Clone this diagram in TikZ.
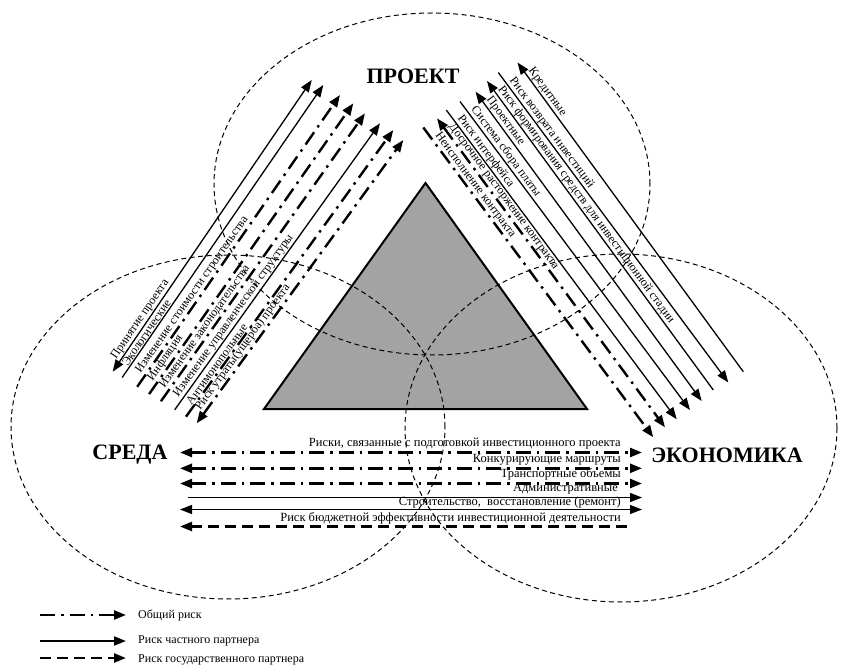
\documentclass[tikz,border=0pt]{standalone}
\usepackage{fontspec}
\setmainfont{Liberation Serif}
\usetikzlibrary{arrows.meta}
\definecolor{trigray}{RGB}{163,163,163}
\tikzset{
  zone/.style={line width=1pt, dash pattern=on 5pt off 3.5pt},
  genrisk/.style={line width=2.4pt, dash pattern=on 15pt off 6pt on 2.5pt off 6pt},
  privrisk/.style={line width=1.3pt},
  pubrisk/.style={line width=2.4pt, dash pattern=on 11pt off 6pt},
  lbl/.style={font=\fontsize{12.5}{13}\selectfont, inner sep=1pt},
  dlbl/.style={font=\fontsize{12}{13}\selectfont, inner sep=0.8pt, pos=0.03, sloped, anchor=south west},
  leg/.style={font=\fontsize{12}{13}\selectfont, inner sep=0pt, anchor=west},
  title/.style={font=\fontsize{22}{24}\selectfont\bfseries},
  >={Triangle[length=12pt,width=9pt]}
}
\begin{document}
\begin{tikzpicture}[x=1pt, y=-1pt]
  \useasboundingbox (0,0) rectangle (841,668);
  \draw[line width=2pt, fill=trigray] (264,409) -- (425.5,183) -- (587,409) -- cycle;
  \draw[zone] (432,184) ellipse [x radius=218pt, y radius=171pt];
  \draw[zone] (228,427) ellipse [x radius=217pt, y radius=172pt];
  \draw[zone] (621,428) ellipse [x radius=216pt, y radius=174pt];
  \node[title] (proj) at (413,76) {ПРОЕКТ};
  \node[title] (env) at (130,455) {СРЕДА};
  \node[title] (econ) at (727,455) {ЭКОНОМИКА};
% left group
  \coordinate (l1b) at (112.7,371.7); \coordinate (l1t) at (311.7,80);
  \coordinate (l2b) at (122.2,377.5); \coordinate (l2t) at (323.3,85);
  \coordinate (l3b) at (137.2,386.8); \coordinate (l3t) at (340,95);
  \coordinate (l4b) at (149.1,394.1); \coordinate (l4t) at (353.3,103.3);
  \coordinate (l5b) at (160.9,401.3); \coordinate (l5t) at (365,113.3);
  \coordinate (l6b) at (174.7,409.8); \coordinate (l6t) at (380,123.3);
  \coordinate (l7b) at (186,416.7); \coordinate (l7t) at (393.3,130);
  \coordinate (l8b) at (196.7,423.3); \coordinate (l8t) at (403.3,140);
  \draw[privrisk,<->] (l1b) -- node[dlbl] (la1) {Принятие проекта} (l1t);
  \draw[privrisk,->] (l2b) -- node[dlbl] (la2) {Экологические} (l2t);
  \draw[genrisk,->] (l3b) -- node[dlbl] (la3) {Изменение стоимости строительства} (l3t);
  \draw[genrisk,->] (l4b) -- node[dlbl] (la4) {Инфляция} (l4t);
  \draw[genrisk,->] (l5b) -- node[dlbl] (la5) {Изменение законодательства} (l5t);
  \draw[privrisk,->] (l6b) -- node[dlbl] (la6) {Изменение управленческой структуры} (l6t);
  \draw[genrisk,->] (l7b) -- node[dlbl] (la7) {Антимонопольные} (l7t);
  \draw[genrisk,<->] (l8b) -- node[dlbl] (la8) {Риск утраты(ущерба) проекта} (l8t);
% right group
  \coordinate (r1t) at (517.5,62.5); \coordinate (r1b) at (743.3,371.7);
  \coordinate (r2t) at (498.3,72.5); \coordinate (r2b) at (728.3,382.5);
  \coordinate (r3t) at (487,81); \coordinate (r3b) at (713.3,390);
  \coordinate (r4t) at (475.5,91.7); \coordinate (r4b) at (701.7,401);
  \coordinate (r5t) at (460,101.5); \coordinate (r5b) at (690,410);
  \coordinate (r6t) at (446.3,110); \coordinate (r6b) at (676.7,419.3);
  \coordinate (r7t) at (437,118.3); \coordinate (r7b) at (665,427.3);
  \coordinate (r8t) at (423.3,127.5); \coordinate (r8b) at (653.3,437.3);
  \draw[privrisk,<-] (r1t) -- node[dlbl] (ra1) {Кредитные} (r1b);
  \draw[privrisk,->] (r2t) -- node[dlbl] (ra2) {Риск возврата инвестиций} (r2b);
  \draw[privrisk,<-] (r3t) -- node[dlbl] (ra3) {Риск формирования средств для инвестиционной стадии} (r3b);
  \draw[privrisk,<->] (r4t) -- node[dlbl] (ra4) {Проектные} (r4b);
  \draw[privrisk,->] (r5t) -- node[dlbl] (ra5) {Система сбора платы} (r5b);
  \draw[privrisk,->] (r6t) -- node[dlbl] (ra6) {Риск интерфейса} (r6b);
  \draw[genrisk,<->] (r7t) -- node[dlbl] (ra7) {Досрочное расторжение контракта} (r7b);
  \draw[genrisk,->] (r8t) -- node[dlbl] (ra8) {Неисполнение контракта} (r8b);
% bottom group
  \coordinate (h1l) at (180,452.5); \coordinate (h1r) at (642,452.5);
  \coordinate (h2l) at (180,468.3); \coordinate (h2r) at (642,468.3);
  \coordinate (h3l) at (180,483.5); \coordinate (h3r) at (642,483.5);
  \coordinate (h4l) at (188,497.5); \coordinate (h4r) at (642,497.5);
  \coordinate (h5l) at (180,509.5); \coordinate (h5r) at (642,509.5);
  \coordinate (h6l) at (180,526.5); \coordinate (h6r) at (633,526.5);
  \draw[genrisk,<->] (h1l) -- (h1r);
  \draw[genrisk,<->] (h2l) -- (h2r);
  \draw[genrisk,<->] (h3l) -- (h3r);
  \draw[privrisk,->] (h4l) -- (h4r);
  \draw[privrisk,<->] (h5l) -- (h5r);
  \draw[pubrisk,<-] (h6l) -- (h6r);
  \node[lbl,anchor=base east] (ha1) at (622,446) {Риски, связанные с подготовкой инвестиционного проекта};
  \node[lbl,anchor=base east] (ha2) at (622,462) {Конкурирующие маршруты};
  \node[lbl,anchor=base east] (ha3) at (622,477) {Транспортные объемы};
  \node[lbl,anchor=base east] (ha4) at (619,491) {Административные};
  \node[lbl,anchor=base east] (ha5) at (622,505.5) {Строительство,\ \ восстановление (ремонт)};
  \node[lbl,anchor=base east] (ha6) at (622,521) {Риск бюджетной эффективности инвестиционной деятельности};
% legend
  \coordinate (g1a) at (40,615); \coordinate (g1b) at (126,615);
  \coordinate (g2a) at (40,641); \coordinate (g2b) at (126,641);
  \coordinate (g3a) at (40,658); \coordinate (g3b) at (126,658);
  \draw[genrisk,->] (g1a) -- (g1b);
  \draw[privrisk,line width=2pt,->] (g2a) -- (g2b);
  \draw[pubrisk,->] (g3a) -- (g3b);
  \node[leg] (gt1) at (138,615) {Общий риск};
  \node[leg] (gt2) at (138,641) {Риск частного партнера};
  \node[leg] (gt3) at (138,660) {Риск государственного партнера};
\end{tikzpicture}
\end{document}
